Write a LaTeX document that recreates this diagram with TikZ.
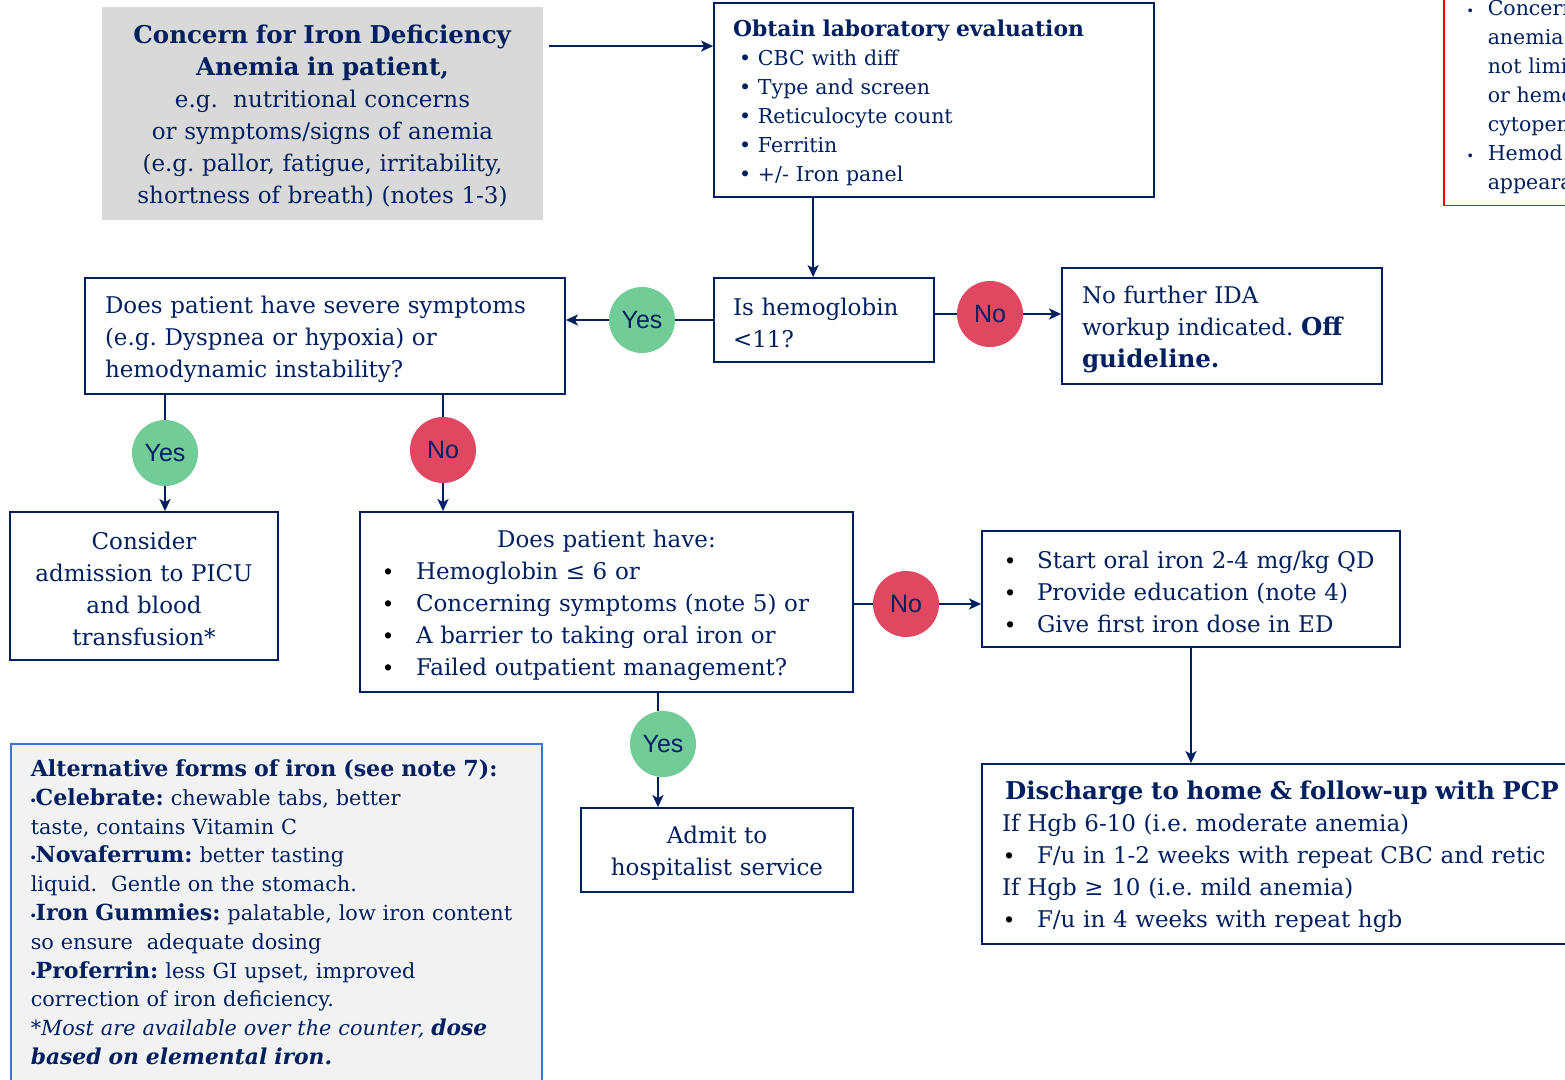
\documentclass[tikz,border=0pt]{standalone}
\usepackage{fontspec}
\setmainfont{DejaVu Serif}[BoldFeatures={Scale=1.065},BoldItalicFeatures={Scale=1.05}]
\newfontfamily\ynfont{Liberation Sans}
\usetikzlibrary{arrows.meta,shapes.geometric}
\definecolor{navy}{HTML}{002060}
\definecolor{yesg}{HTML}{72CC98}
\definecolor{nored}{HTML}{E04862}
\definecolor{grayf}{HTML}{D9D9D9}
\definecolor{altf}{HTML}{F2F2F2}
\definecolor{altb}{HTML}{4472C4}
\definecolor{redb}{HTML}{FF0000}
\newcommand\fsmain{\fontsize{23}{32}\selectfont\frenchspacing}
\newcommand\fslab{\fontsize{20.5}{29}\selectfont\frenchspacing}
\newcommand\fsalt{\fontsize{20.8}{28.8}\selectfont\frenchspacing}
\newcommand\tsm{\rule{0pt}{24pt}}
\newcommand\tsl{\rule{0pt}{22pt}}
\newcommand\labbul{\makebox[25pt][l]{\hspace{6pt}\textbullet}}
\newcommand\blkbul[1]{\makebox[#1][l]{\color{black}{\ynfont\textbullet}}}
\newcommand\smbul{{\ynfont\fontsize{14}{14}\selectfont\textbullet}}
\begin{document}
\begin{tikzpicture}[x=1pt,y=-1pt,
  box/.style={draw=navy,line width=1.8pt,text=navy,rectangle,inner sep=0pt,fill=white},
  yn/.style={ellipse,inner sep=0pt,minimum width=66pt,minimum height=66pt,text=navy,
    font=\ynfont\fontsize{25}{25}\selectfont},
  yesc/.style={yn,fill=yesg},
  noc/.style={yn,fill=nored},
  conn/.style={draw=navy,line width=2pt},
  arr/.style={conn,-{Stealth[length=12pt,width=11pt,inset=3pt]}}]
\useasboundingbox (0,0) rectangle (1565,1079);
\begin{scope}
\clip (0,0) rectangle (1565,1079);
% boxes
\node[box,draw=none,fill=grayf,minimum width=441pt,minimum height=213pt,text width=421pt,align=center,font=\fsmain]
  (concern) at (322.5,113.5)
  {\tsm\textbf{Concern for Iron Deficiency}\\\textbf{Anemia in patient,}\\e.g.\ \ nutritional concerns\\or symptoms/signs of anemia\\(e.g. pallor, fatigue, irritability,\\shortness of breath) (notes 1-3)};
\node[box,minimum width=440pt,minimum height=194pt,text width=402pt,align=left,font=\fslab]
  (lab) at (934,100)
  {\tsl\textbf{Obtain laboratory evaluation}\\\labbul CBC with diff\\\labbul Type and screen\\\labbul Reticulocyte count\\\labbul Ferritin\\\labbul +/- Iron panel};
\node[box,minimum width=220pt,minimum height=84pt,text width=182pt,align=left,font=\fsmain]
  (hemo) at (824,320)
  {\tsm\mbox{Is hemoglobin}\\<11?};
\node[box,minimum width=480pt,minimum height=116pt,text width=440pt,align=left,font=\fsmain]
  (severe) at (325,336)
  {\tsm\mbox{Does patient have severe symptoms}\\(e.g. Dyspnea or hypoxia) or\\hemodynamic instability?};
\node[box,minimum width=320pt,minimum height=116pt,text width=280pt,align=left,font=\fsmain]
  (nofurther) at (1222,326)
  {\tsm No further IDA\\\mbox{workup indicated. \textbf{Off}}\\\textbf{guideline.}};
\node[box,minimum width=268pt,minimum height=148pt,text width=250pt,align=center,font=\fsmain]
  (consider) at (144,586)
  {\tsm Consider\\\mbox{admission to PICU}\\and blood\\transfusion*};
\node[box,minimum width=493pt,minimum height=180pt,text width=445pt,align=left,font=\fsmain]
  (doespt) at (606.5,602)
  {\tsm\makebox[\linewidth][c]{Does patient have:}\\\blkbul{32pt}Hemoglobin ≤ 6 or\\\blkbul{32pt}\mbox{Concerning symptoms (note 5) or}\\\blkbul{32pt}A barrier to taking oral iron or\\\blkbul{32pt}\mbox{Failed outpatient management?}};
\node[box,minimum width=418pt,minimum height=116pt,text width=370pt,align=left,font=\fsmain]
  (startoral) at (1191,589)
  {\tsm\blkbul{31pt}\mbox{Start oral iron 2-4 mg/kg QD}\\\blkbul{31pt}Provide education (note 4)\\\blkbul{31pt}Give first iron dose in ED};
\node[box,minimum width=638pt,minimum height=180pt,text width=598pt,align=left,font=\fsmain]
  (discharge) at (1301,854)
  {\tsm\hspace*{3pt}\textbf{Discharge to home \& follow-up with PCP}\\If Hgb 6-10 (i.e. moderate anemia)\\\hspace*{3pt}\blkbul{32pt}F/u in 1-2 weeks with repeat CBC and retic\\If Hgb ≥ 10 (i.e. mild anemia)\\\hspace*{3pt}\blkbul{32pt}F/u in 4 weeks with repeat hgb};
\node[box,minimum width=272pt,minimum height=84pt,text width=252pt,align=center,font=\fsmain]
  (admit) at (717,850)
  {\tsm Admit to\\\mbox{hospitalist service}};
\node[box,draw=altb,line width=1.5pt,fill=altf,anchor=north west,minimum width=531pt,text width=491pt,
  inner xsep=20pt,inner ysep=16pt,align=left,font=\fsalt]
  (alt) at (10,743)
  {\textbf{Alternative forms of iron (see note 7):}\\
   \smbul\textbf{Celebrate:} chewable tabs, better\\
   taste, contains Vitamin C\\
   \smbul\textbf{Novaferrum:} better tasting\\
   liquid.\ \ Gentle on the stomach.\\
   \smbul\textbf{Iron Gummies:} palatable, low iron content\\
   so ensure\ \ adequate dosing\\
   \smbul\textbf{Proferrin:} less GI upset, improved\\
   correction of iron deficiency.\\
   \textit{*Most are available over the counter, \textbf{dose}}\\
   \textit{\textbf{based on elemental iron.}}\\
   \rule{0pt}{10pt}};
\node[box,draw=redb,line width=1.5pt,anchor=south west,minimum width=300pt,text width=276pt,
  inner xsep=24pt,inner ysep=11pt,align=left,font=\fslab]
  (redbox) at (1443,206)
  {\makebox[20pt][l]{\ynfont\fontsize{14}{14}\selectfont\textbullet}Concern\\
   \hspace*{20pt}anemia\\
   \hspace*{20pt}not limi\\
   \hspace*{20pt}or hemo\\
   \hspace*{20pt}cytopen\\
   \makebox[20pt][l]{\ynfont\fontsize{14}{14}\selectfont\textbullet}Hemod\\
   \hspace*{20pt}appeara};
% decision circles
\node[yesc] (yes1) at (642,320) {Yes};
\node[noc]  (no1)  at (990,314) {No};
\node[yesc] (yes2) at (165,453) {Yes};
\node[noc]  (no2)  at (443,450) {No};
\node[noc]  (no3)  at (906,604) {No};
\node[yesc] (yes3) at (663,744) {Yes};
% connectors
\draw[arr] ([xshift=5pt,yshift=-40pt]concern.north east) -- ([yshift=-44pt]lab.north west);
\draw[arr] ([xshift=100pt]lab.south west) -- ([xshift=100pt]hemo.north west);
\draw[conn] (hemo.west) -- (yes1);
\draw[arr] (yes1) -- (yes1 -| severe.east);
\draw[conn] ([yshift=6pt]hemo.east) -- (no1);
\draw[arr] (no1) -- (no1 -| nofurther.west);
\draw[conn] (yes2 |- severe.south) -- (yes2);
\draw[arr] (yes2) -- (yes2 |- consider.north);
\draw[conn] (no2 |- severe.south) -- (no2);
\draw[arr] (no2) -- (no2 |- doespt.north);
\draw[conn] (no3 -| doespt.east) -- (no3);
\draw[arr] (no3) -- (no3 -| startoral.west);
\draw[conn] ([xshift=-5pt]yes3.north |- doespt.south) -- ([xshift=-5pt]yes3.north);
\draw[arr] ([xshift=-5pt]yes3.south) -- ([xshift=-5pt]yes3.south |- admit.north);
\draw[arr] (startoral.south) -- (startoral.south |- discharge.north);
\end{scope}
\end{tikzpicture}
\end{document}
